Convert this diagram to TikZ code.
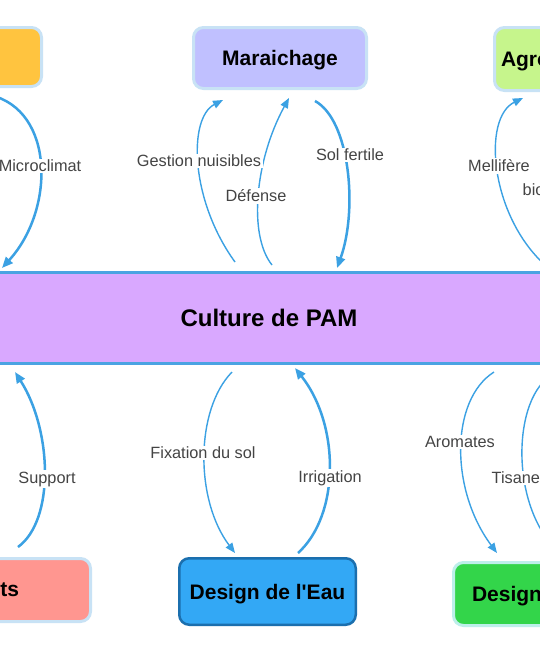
\documentclass[tikz,border=0pt]{standalone}
\usepackage{fontspec}
\setmainfont{Liberation Sans}[Ligatures=TeXOff]
\usetikzlibrary{arrows.meta,calc}
\definecolor{orangec}{HTML}{FFC43F}
\definecolor{marc}{HTML}{C0C0FF}
\definecolor{agroc}{HTML}{C6F58C}
\definecolor{pamc}{HTML}{D9A8FF}
\definecolor{pamline}{HTML}{4BA3E2}
\definecolor{salmonc}{HTML}{FF9690}
\definecolor{eauc}{HTML}{33A8F5}
\definecolor{eauline}{HTML}{1B6FAE}
\definecolor{greenc}{HTML}{33D54A}
\definecolor{greenline}{HTML}{BDEFEA}
\definecolor{boxline}{HTML}{C8E2F5}
\definecolor{edgeblue}{HTML}{3BA1E3}
\definecolor{lbltext}{HTML}{444444}
\begin{document}
\begin{tikzpicture}[x=1pt,y=-1pt,
  box/.style={rounded corners=10pt, line width=3pt, draw=boxline, inner sep=0pt, text depth=0pt,
    font=\fontsize{21}{25}\selectfont\bfseries},
  lbl/.style={fill=white, text=lbltext, inner sep=1.5pt, font=\fontsize{16.3}{19}\selectfont},
  thinedge/.style={draw=edgeblue, line width=1.4pt, -{Triangle[length=10pt,width=8pt]}},
  thickedge/.style={draw=edgeblue, line width=2.5pt, -{Triangle[length=11pt,width=9pt]}}]
\useasboundingbox (0,0) rectangle (540,654);
\clip (0,0) rectangle (540,654);
\fill[white] (0,0) rectangle (540,654);

% nodes
\node[box, fill=orangec, minimum width=175pt, minimum height=59pt] (veg) at (-46,57) {};
\node[box, fill=marc, minimum width=173pt, minimum height=61pt] (mar) at (280,58) {Maraichage\hspace{9pt}};
\node[box, fill=agroc, minimum width=173pt, minimum height=63pt, text width=160pt, align=left] (agro) at (581,59) {Agro};
\node[box, draw=pamline, fill=pamc, rounded corners=0pt, minimum width=655pt, minimum height=91pt,
  font=\fontsize{24}{28}\selectfont\bfseries] (pam) at (269,318) {Culture de PAM};
\node[box, fill=salmonc, minimum width=270pt, minimum height=63pt, text width=127pt, align=right] (plants) at (-44.5,590) {ts};
\node[box, draw=eauline, line width=2.5pt, fill=eauc, minimum width=176.5pt, minimum height=66.5pt] (eau) at (267.5,591.5) {Design de l'Eau\hspace{8pt}};
\node[box, draw=greenline, fill=greenc, minimum width=177pt, minimum height=63pt, text width=140pt, align=left] (sol) at (542,594) {Design};

% connectors
\draw[thickedge] ($(veg.south)+(36,7)$) .. controls (55,110) and (55,210) .. ($(pam.north)+(-267,-3)$);
\draw[thinedge] ($(pam.north)+(-34,-9)$) .. controls (190,200) and (188,118) .. ($(mar.south)+(-57,10)$);
\draw[thinedge] ($(pam.north)+(3,-6)$) .. controls (248,235) and (255,160) .. ($(mar.south)+(9,8)$);
\draw[thickedge] ($(mar.south)+(35,11)$) .. controls (350,120) and (358,210) .. ($(pam.north)+(68,-3)$);
\draw[thinedge] ($(pam.north)+(276,-6)$) .. controls (490,215) and (482,118) .. ($(agro.south)+(-58,6)$);
\draw[thickedge] ($(plants.north)+(62.5,-10)$) .. controls (55,520) and (52,430) .. ($(pam.south)+(-254,7)$);
\draw[thinedge] ($(pam.south)+(-37,7)$) .. controls (195,410) and (195,500) .. ($(eau.north)+(-32.5,-4)$);
\draw[thickedge] ($(eau.north)+(30.5,-4)$) .. controls (340,515) and (340,425) .. ($(pam.south)+(26,3)$);
\draw[thinedge] ($(pam.south)+(225,7)$) .. controls (450,400) and (450,490) .. ($(sol.north)+(-45,-8)$);
\draw[thinedge] ($(sol.north)+(20,-6)$) .. controls (508,510) and (512,395) .. ($(pam.south)+(293,5)$);

% labels
\node[lbl] (l1) at (40,166) {Microclimat};
\node[lbl] (l2) at (199,161) {Gestion nuisibles};
\node[lbl] (l3) at (256,196) {Défense};
\node[lbl] (l4) at (350,155) {Sol fertile};
\node[lbl] (l5) at (499,166) {Mellifère};
\node[lbl, anchor=west] (l6) at (521,190) {bio};
\node[lbl] (l7) at (47,479) {Support};
\node[lbl] (l8) at (203,453) {Fixation du sol};
\node[lbl] (l9) at (330,478) {Irrigation};
\node[lbl] (l10) at (460,442) {Aromates};
\node[lbl, anchor=west] (l11) at (490,478) {Tisane};
\end{tikzpicture}
\end{document}
